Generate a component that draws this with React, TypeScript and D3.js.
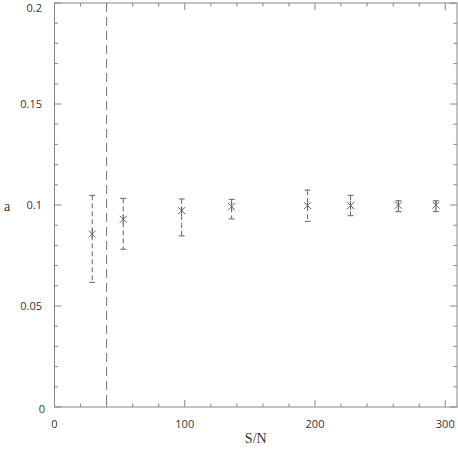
import React from "react";
import * as d3 from "d3";

const sn = [29, 52.8, 97.6, 136, 194.3, 227.3, 264, 292.8];
const aVal = [0.0856, 0.0929, 0.0972, 0.0992, 0.0997, 0.0997, 0.0999, 0.0999];
const aLow = [0.0617, 0.0781, 0.0847, 0.0931, 0.0919, 0.0947, 0.0967, 0.0967];
const aHigh = [0.1048, 0.1033, 0.1030, 0.1028, 0.1074, 0.1048, 0.1021, 0.1021];
const cutoff = 40;
const xMajor = [0, 100, 200, 300];
const yMajor = [0, 0.05, 0.1, 0.15, 0.2];
const yLabels = ["0", "0.05", "0.1", "0.15", "0.2"];

export default function App() {
  const W = 458, H = 459;
  const x = d3.scaleLinear().domain([0, 309]).range([54.5, 457]);
  const y = d3.scaleLinear().domain([0, 0.2]).range([407, 3]);
  const axisColor = "#888";
  const markColor = "#666";
  const xMinor = d3.range(0, 310, 20).filter((v) => v % 100 !== 0);
  const yMinor = d3.range(0, 0.2001, 0.01).filter((v) => Math.abs(Math.round(v * 100) % 5) !== 0);
  const sans = "'Open Sans', 'DejaVu Sans', sans-serif";
  const serif = "'Liberation Serif', 'Times New Roman', serif";
  const [x0, x1] = x.range();
  const [y0, y1] = y.range();
  const labelY = (v: number) => (v === 0 ? y(v) + 6 : v >= 0.2 ? y(v) + 9 : y(v) + 4);
  return (
    <svg width={W} height={H} style={{ position: "absolute", left: 0, top: 0 }}>
      <rect x={0} y={0} width={W} height={H} fill="#fff" />
      {/* frame */}
      <rect x={x0} y={y1} width={x1 - x0} height={y0 - y1} fill="none" stroke={axisColor} strokeWidth={1} />
      {/* x ticks */}
      {xMajor.map((v) => (
        <g key={"xm" + v}>
          <line x1={x(v)} x2={x(v)} y1={y0} y2={y0 - 7} stroke={axisColor} />
          <line x1={x(v)} x2={x(v)} y1={y1} y2={y1 + 7} stroke={axisColor} />
          <text x={x(v)} y={428} textAnchor="middle" fontFamily={sans} fontSize={11} fill="#333">{v}</text>
        </g>
      ))}
      {xMinor.map((v) => (
        <g key={"xn" + v}>
          <line x1={x(v)} x2={x(v)} y1={y0} y2={y0 - 3.5} stroke={axisColor} />
          <line x1={x(v)} x2={x(v)} y1={y1} y2={y1 + 3.5} stroke={axisColor} />
        </g>
      ))}
      {/* y ticks */}
      {yMajor.map((v, i) => (
        <g key={"ym" + v}>
          <line x1={x0} x2={x0 + 7} y1={y(v)} y2={y(v)} stroke={axisColor} />
          <line x1={x1} x2={x1 - 7} y1={y(v)} y2={y(v)} stroke={axisColor} />
          <text x={v === 0 ? 45 : 42} y={labelY(v)} textAnchor="end" fontFamily={sans} fontSize={11} fill="#333">{yLabels[i]}</text>
        </g>
      ))}
      {yMinor.map((v) => (
        <g key={"yn" + v}>
          <line x1={x0} x2={x0 + 3.5} y1={y(v)} y2={y(v)} stroke={axisColor} />
          <line x1={x1} x2={x1 - 3.5} y1={y(v)} y2={y(v)} stroke={axisColor} />
        </g>
      ))}
      {/* cutoff line */}
      <line x1={x(cutoff)} x2={x(cutoff)} y1={y1} y2={y0} stroke="#777" strokeDasharray="9,5" />
      {/* error bars and markers */}
      {sn.map((s, i) => {
        const cx = x(s);
        const cy = y(aVal[i]);
        const m = 3.5;
        return (
          <g key={"p" + i} stroke={markColor} strokeWidth={1}>
            <line x1={cx} x2={cx} y1={y(aHigh[i])} y2={y(aLow[i])} strokeDasharray="5,3" />
            <line x1={cx - 3} x2={cx + 3} y1={y(aHigh[i])} y2={y(aHigh[i])} />
            <line x1={cx - 3} x2={cx + 3} y1={y(aLow[i])} y2={y(aLow[i])} />
            <line x1={cx - m} x2={cx + m} y1={cy - m} y2={cy + m} />
            <line x1={cx - m} x2={cx + m} y1={cy + m} y2={cy - m} />
            <line x1={cx} x2={cx} y1={cy - m - 1} y2={cy + m + 1} />
          </g>
        );
      })}
      {/* axis labels */}
      <text x={(x0 + x1) / 2} y={443} textAnchor="middle" fontFamily={serif} fontSize={14} fill="#333">S/N</text>
      <text x={7} y={211} textAnchor="middle" fontFamily={serif} fontSize={14} fill="#333">a</text>
    </svg>
  );
}
